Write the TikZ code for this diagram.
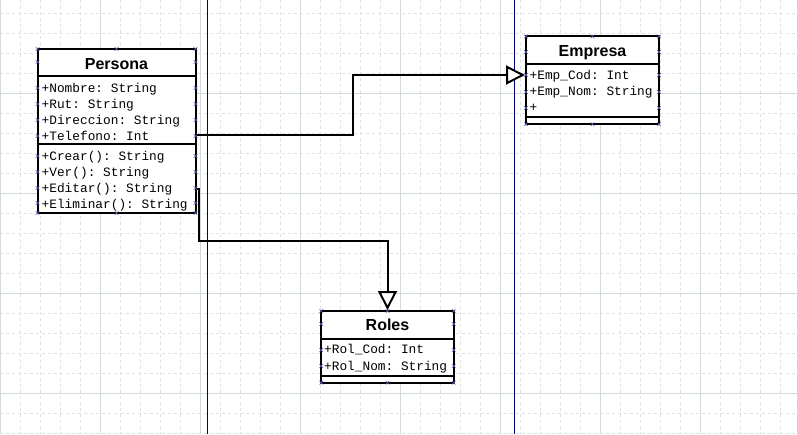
\documentclass[tikz,border=0pt]{standalone}
\usepackage{fontspec}
\setmainfont{Liberation Sans}
\setmonofont{Liberation Mono}
\usetikzlibrary{arrows.meta}

\definecolor{rejilla}{RGB}{222,226,226}
\definecolor{rejillafuerte}{RGB}{210,218,218}
\definecolor{pagina}{RGB}{0,0,120}
\definecolor{marca}{RGB}{90,90,175}

% marca de seleccion (x pequena)
\newcommand{\hmarca}[2]{\draw[marca, line width=0.6pt] (#1,#2) +(-1.8,-1.8) -- +(1.8,1.8) +(-1.8,1.8) -- +(1.8,-1.8);}

\begin{document}
\begin{tikzpicture}[x=1pt, y=-1pt,
        clase/.style={draw, line width=2pt, fill=white, inner sep=0pt},
        titulo/.style={font=\fontsize{16}{18}\selectfont\bfseries, anchor=base, inner sep=0pt},
        miembro/.style={font=\fontsize{12.8}{14}\selectfont\ttfamily, anchor=base west, inner sep=0pt},
        herencia/.style={line width=2pt, -{Triangle[open, length=19pt, width=19pt, fill=white]}}]
        \useasboundingbox (0,0) rectangle (797,434);

        % Rejilla
        \foreach \x in {0,20,...,780}
            \draw[rejilla, dash pattern=on 3pt off 3pt] (\x,0) -- (\x,434);
        \foreach \y in {13.5,33.5,...,433.5}
            \draw[rejilla, dash pattern=on 3pt off 3pt] (0,\y) -- (797,\y);
        \foreach \x in {0,100,...,700}
            \draw[rejillafuerte] (\x,0) -- (\x,434);
        \foreach \y in {93.5,193.5,293.5,393.5}
            \draw[rejillafuerte] (0,\y) -- (797,\y);

        % Bordes de pagina
        \draw[pagina] (207,0) -- (207,434);
        \draw[pagina] (514,0) -- (514,434);

        % Clase Persona
        \node[clase, minimum width=158pt, minimum height=164pt] (persona) at (116.5,131) {};
        \draw[line width=2pt] (persona.west |- 0,76) -- (persona.east |- 0,76);
        \draw[line width=2pt] (persona.west |- 0,144) -- (persona.east |- 0,144);
        \node[titulo] (personaT) at (116.5,69.3) {Persona};
        \node[miembro] (p1) at (41.5,92.3) {+Nombre: String};
        \node[miembro] (p2) at (41.5,108.3) {+Rut: String};
        \node[miembro] (p3) at (41.5,124.3) {+Direccion: String};
        \node[miembro] (p4) at (41.5,140.3) {+Telefono: Int};
        \node[miembro] (p5) at (41.5,160.3) {+Crear(): String};
        \node[miembro] (p6) at (41.5,176.3) {+Ver(): String};
        \node[miembro] (p7) at (41.5,192.3) {+Editar(): String};
        \node[miembro] (p8) at (41.5,208) {+Eliminar(): String};

        % Clase Empresa
        \node[clase, minimum width=133pt, minimum height=88pt] (empresa) at (592.5,80.4) {};
        \draw[line width=2pt] (empresa.west |- 0,64) -- (empresa.east |- 0,64);
        \draw[line width=2pt] (empresa.west |- 0,116.7) -- (empresa.east |- 0,116.7);
        \node[titulo] (empresaT) at (592.5,56.7) {Empresa};
        \node[miembro] (e1) at (529.5,79.3) {+Emp\_Cod: Int};
        \node[miembro] (e2) at (529.5,95.7) {+Emp\_Nom: String};
        \node[miembro] (e3) at (529.5,111.7) {+};

        % Clase Roles
        \node[clase, minimum width=132.4pt, minimum height=71.7pt] (roles) at (387.5,346.85) {};
        \draw[line width=2pt] (roles.west |- 0,339) -- (roles.east |- 0,339);
        \draw[line width=2pt] (roles.west |- 0,375.7) -- (roles.east |- 0,375.7);
        \node[titulo] (rolesT) at (387.5,330.7) {Roles};
        \node[miembro] (r1) at (324,353.3) {+Rol\_Cod: Int};
        \node[miembro] (r2) at (324,370) {+Rol\_Nom: String};

        % Herencias
        \coordinate (codoA) at (353,135);
        \coordinate (codoB) at (353,75);
        \draw[herencia] (persona.east |- codoA) -- (codoA) -- (codoB) -- (codoB -| empresa.west);

        \coordinate (codoC) at (199,189);
        \coordinate (codoD) at (199,241);
        \draw[herencia] (persona.east |- codoC) -- (codoC) -- (codoD) -- (codoD -| roles.north) -- (roles.north);

        % Marcas de seleccion
        \foreach \y in {49,62,88,104,120,136,156,172,188,203,213}
            {\hmarca{37.5}{\y} \hmarca{195.5}{\y}}
        \hmarca{116.5}{49} \hmarca{116.5}{213}
        \foreach \y in {36.5,52,75,92,108,124.3}
            {\hmarca{526}{\y} \hmarca{659}{\y}}
        \hmarca{592.5}{36.5} \hmarca{592.5}{124.3}
        \foreach \y in {311,324,350,366,382.7}
            {\hmarca{321.3}{\y} \hmarca{453.7}{\y}}
        \hmarca{387.5}{311} \hmarca{387.5}{382.7}
    \end{tikzpicture}
\end{document}
